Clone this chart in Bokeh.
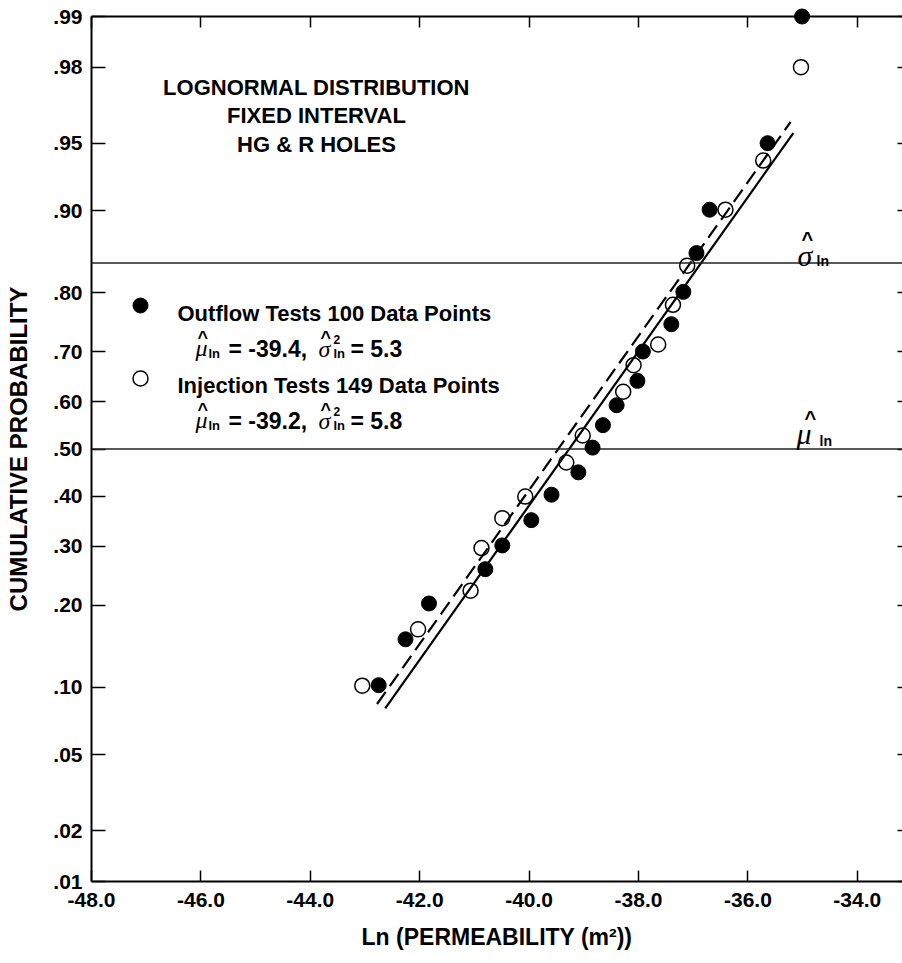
from statistics import NormalDist
from bokeh.plotting import figure
from bokeh.models import (LinearAxis, FixedTicker, CustomJSTickFormatter, Span, Label,
                          Range1d, ColumnDataSource)
from bokeh.embed import file_html
from bokeh.resources import INLINE

# ---------------- data ----------------
prob_ticks = [0.01, 0.02, 0.05, 0.10, 0.20, 0.30, 0.40, 0.50, 0.60, 0.70, 0.80, 0.90, 0.95, 0.98, 0.99]
prob_labels = [".01", ".02", ".05", ".10", ".20", ".30", ".40", ".50", ".60", ".70", ".80", ".90", ".95", ".98", ".99"]
x_ticks = [-48, -46, -44, -42, -40, -38, -36, -34]
x_tick_labels = ["-48.0", "-46.0", "-44.0", "-42.0", "-40.0", "-38.0", "-36.0", "-34.0"]

# Outflow tests (filled circles)
outflow_x = [-42.75, -42.26, -41.83, -40.80, -40.49, -39.96, -39.59, -39.10, -38.84, -38.65,
             -38.40, -38.02, -37.92, -37.40, -37.18, -36.94, -36.70, -35.64, -35.01]
outflow_p = [0.102, 0.153, 0.203, 0.259, 0.302, 0.351, 0.403, 0.450, 0.503, 0.551,
             0.593, 0.643, 0.700, 0.749, 0.801, 0.854, 0.901, 0.950, 0.990]

# Injection tests (open circles)
injection_x = [-43.05, -42.03, -41.07, -40.87, -40.49, -40.07, -39.32, -39.02, -38.28, -38.09,
               -37.64, -37.37, -37.11, -36.41, -35.72, -35.03]
injection_p = [0.1015, 0.166, 0.223, 0.297, 0.355, 0.399, 0.471, 0.529, 0.621, 0.674,
               0.713, 0.781, 0.838, 0.901, 0.9396, 0.980]

# fitted lognormal lines (end points)
outflow_fit_x = [-42.78, -35.22]
outflow_fit_p = [0.0851, 0.9607]
injection_fit_x = [-42.63, -35.17]
injection_fit_p = [0.0815, 0.9554]

mu_prob = 0.50       # mu_ln reference level
sigma_prob = 0.8413  # mu_ln + sigma_ln reference level

# ---------------- helpers ----------------
ND = NormalDist()
def zq(p):
    return ND.inv_cdf(p)

W, H = 902, 963
L, T, B = 91, 16, 82
PX_PER_UNIT = 54.7
X0 = -48.0
X1 = X0 + (W - L) / PX_PER_UNIT
Z0, Z1 = zq(0.01), zq(0.99)

def dx(px):
    return X0 + (px - L) * (X1 - X0) / (W - L)

def dy(py):
    return Z1 - (py - T) * (Z1 - Z0) / (H - T - B)

FONT = "Liberation Sans"
SERIF = "Liberation Serif"

p = figure(width=W, height=H, x_range=Range1d(X0, X1), y_range=Range1d(Z0, Z1),
           output_backend="svg", toolbar_location=None,
           x_axis_location=None, y_axis_location=None,
           min_border_left=L, min_border_right=0, min_border_top=T, min_border_bottom=B)
p.outline_line_color = None
p.xgrid.visible = False
p.ygrid.visible = False
p.background_fill_color = "white"
p.border_fill_color = "white"

fmt_code = """
let best = 0;
for (let i = 0; i < vals.length; i++) {
  if (Math.abs(vals[i] - tick) < Math.abs(vals[best] - tick)) best = i;
}
return labs[best];
"""
z_ticks = [zq(v) for v in prob_ticks]
yfmt = CustomJSTickFormatter(args=dict(vals=z_ticks, labs=prob_labels), code=fmt_code)
xfmt = CustomJSTickFormatter(args=dict(vals=x_ticks, labs=x_tick_labels), code=fmt_code)
blank = CustomJSTickFormatter(code="return '';")

def base_axis(ax, tick_in):
    ax.axis_line_color = "black"
    ax.axis_line_width = 2
    ax.major_tick_in = tick_in
    ax.major_tick_out = 0
    ax.major_tick_line_width = 1.5
    ax.major_tick_line_color = "black"
    ax.minor_tick_line_color = None

bottom = LinearAxis(ticker=FixedTicker(ticks=x_ticks), formatter=xfmt)
base_axis(bottom, 11)
bottom.major_label_text_font = FONT
bottom.major_label_text_font_size = "21px"
bottom.major_label_text_font_style = "bold"
bottom.major_label_text_color = "black"
bottom.major_label_standoff = 11
bottom.axis_label = "Ln (PERMEABILITY (m²))"
bottom.axis_label_text_font = FONT
bottom.axis_label_text_font_size = "23px"
bottom.axis_label_text_font_style = "bold"
bottom.axis_label_text_color = "black"
bottom.axis_label_standoff = 14
p.add_layout(bottom, "below")

left = LinearAxis(ticker=FixedTicker(ticks=z_ticks), formatter=yfmt)
base_axis(left, 14)
left.major_label_text_font = FONT
left.major_label_text_font_size = "21px"
left.major_label_text_font_style = "bold"
left.major_label_text_color = "black"
left.major_label_standoff = 9
left.axis_label = "CUMULATIVE PROBABILITY"
left.axis_label_text_font = FONT
left.axis_label_text_font_size = "24px"
left.axis_label_text_font_style = "bold"
left.axis_label_text_color = "black"
left.axis_label_standoff = 18
p.add_layout(left, "left")

top = LinearAxis(ticker=FixedTicker(ticks=x_ticks), formatter=blank)
base_axis(top, 11)
top.major_label_text_font_size = "0px"
top.major_label_standoff = 0
p.add_layout(top, "above")

right = LinearAxis(ticker=FixedTicker(ticks=z_ticks), formatter=blank)
base_axis(right, 5)
right.axis_line_color = None
right.major_label_text_font_size = "0px"
right.major_label_standoff = 0
p.add_layout(right, "right")

# reference lines
for pr in (mu_prob, sigma_prob):
    p.add_layout(Span(location=zq(pr), dimension="width", line_color="#222222", line_width=1.5))

# fitted lines
p.line(outflow_fit_x, [zq(v) for v in outflow_fit_p], line_color="black", line_width=2.2,
       line_dash="15 7")
p.line(injection_fit_x, [zq(v) for v in injection_fit_p], line_color="black", line_width=2.2)

# data points
src_out = ColumnDataSource(dict(x=outflow_x, z=[zq(v) for v in outflow_p]))
src_inj = ColumnDataSource(dict(x=injection_x, z=[zq(v) for v in injection_p]))
p.scatter("x", "z", source=src_inj, marker="circle", size=15, fill_color=None,
          line_color="black", line_width=1.5, level="overlay")
p.scatter("x", "z", source=src_out, marker="circle", size=15, fill_color="black",
          line_color="black", level="overlay")

def lab(px, py, text, size, style="normal", font=FONT, align="left", baseline="alphabetic"):
    p.add_layout(Label(x=dx(px), y=dy(py), text=text, text_font=font,
                       text_font_size=f"{size}px", text_font_style=style,
                       text_align=align, text_baseline=baseline, text_color="black"))

# title block
lab(316, 87, "LOGNORMAL DISTRIBUTION", 22, "bold", align="center")
lab(316, 115, "FIXED INTERVAL", 22, "bold", align="center")
lab(316, 144, "HG & R HOLES", 22, "bold", align="center")

# legend markers
p.scatter([dx(140)], [dy(305)], marker="circle", size=15, fill_color="black", line_color="black")
p.scatter([dx(140)], [dy(378)], marker="circle", size=15, fill_color=None, line_color="black",
          line_width=1.5)

lab(177, 313, "Outflow Tests 100 Data Points", 22, "bold")
lab(177, 385, "Injection Tests 149 Data Points", 22, "bold")

def stats_line(base, mu_txt, var_txt):
    # mu hat ln
    lab(195, base - 1, "μ", 24, "italic", font=SERIF)
    lab(197, base - 11, "^", 18, "bold")
    lab(208, base + 5, "ln", 13, "bold")
    lab(228, base, "= " + mu_txt + ",", 23, "bold")
    # sigma hat squared ln
    lab(318, base, "σ", 24, "italic", font=SERIF)
    lab(320, base - 11, "^", 18, "bold")
    lab(333, base - 9, "2", 12, "bold")
    lab(333, base + 5, "ln", 13, "bold")
    lab(350, base, "= " + var_txt, 23, "bold")

stats_line(348, "-39.4", "5.3")
stats_line(420, "-39.2", "5.8")

# right-side labels for reference lines
lab(797, 255, "σ", 30, "italic", font=SERIF)
lab(801, 238, "^", 20, "bold")
lab(816, 260, "ln", 14, "bold")
lab(796, 433, "μ", 30, "italic", font=SERIF)
lab(804, 417, "^", 20, "bold")
lab(819, 440, "ln", 14, "bold")

open("out.html", "w").write(file_html(p, INLINE))
